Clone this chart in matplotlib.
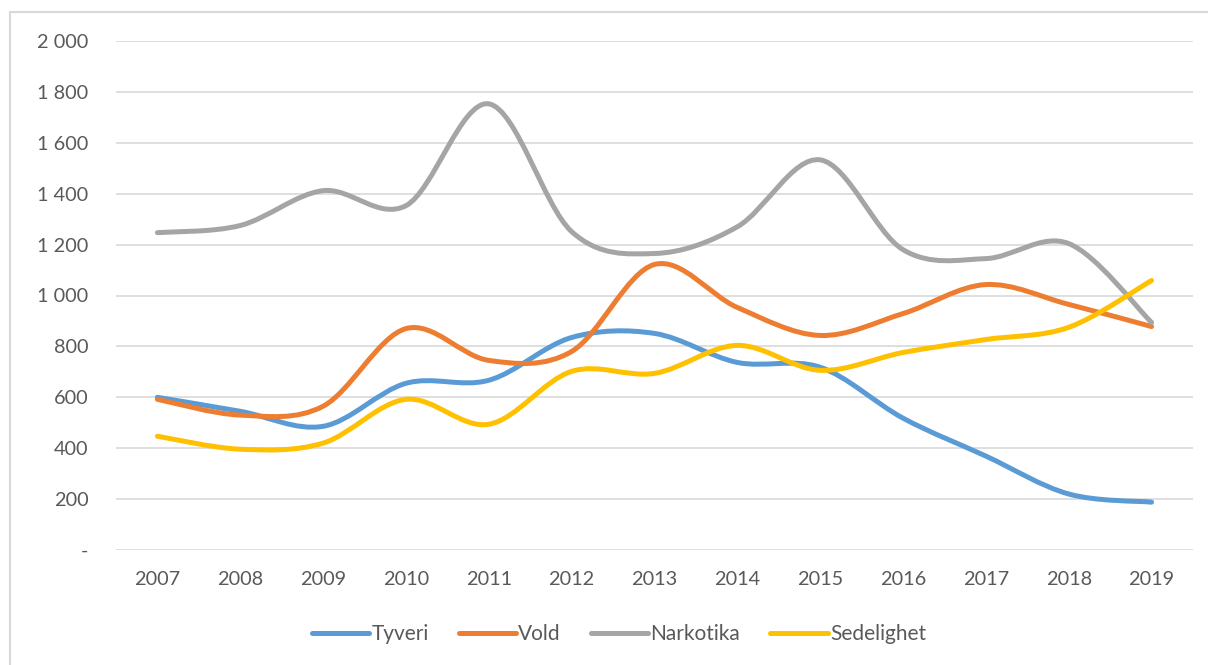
import matplotlib
matplotlib.use("Agg")
import matplotlib.pyplot as plt
from matplotlib.path import Path
from matplotlib.patches import PathPatch, Rectangle
from matplotlib.lines import Line2D
from matplotlib.ticker import FuncFormatter, MultipleLocator

years = ["2007", "2008", "2009", "2010", "2011", "2012", "2013",
         "2014", "2015", "2016", "2017", "2018", "2019"]
tyveri = [600, 545, 486, 655, 667, 835, 851, 737, 718, 518, 369, 220, 188]
vold = [592, 530, 565, 870, 745, 780, 1122, 953, 843, 929, 1043, 965, 878]
narkotika = [1247, 1275, 1412, 1353, 1753, 1251, 1165, 1270, 1533, 1180, 1145, 1204, 894]
sedelighet = [447, 396, 420, 592, 494, 702, 694, 804, 706, 776, 827, 875, 1059]
series_names = ["Tyveri", "Vold", "Narkotika", "Sedelighet"]
colors = ["#5B9BD5", "#ED7D31", "#A5A5A5", "#FFC000"]

plt.rcParams['font.family'] = ['Lato', 'DejaVu Sans']

W, H = 1208, 665
fig = plt.figure(figsize=(W / 100, H / 100), dpi=100)
fig.patch.set_facecolor("white")
fig.patches.append(Rectangle((10 / W, -0.1), 1.2, 1 - 12 / H + 0.1, transform=fig.transFigure,
                             fill=False, edgecolor="#D9D9D9", linewidth=1.5))

ax = fig.add_axes([116 / W, 1 - 550 / H, (1193 - 116) / W, (550 - 41) / H])
ax.set_xlim(-0.5, len(years) - 0.5)
ax.set_ylim(0, 2000)


def smooth_path(xs, ys):
    verts = [(xs[0], ys[0])]
    codes = [Path.MOVETO]
    n = len(xs)
    for i in range(n - 1):
        x0, y0 = (xs[i - 1], ys[i - 1]) if i > 0 else (xs[i], ys[i])
        x1, y1 = xs[i], ys[i]
        x2, y2 = xs[i + 1], ys[i + 1]
        x3, y3 = (xs[i + 2], ys[i + 2]) if i + 2 < n else (x2, y2)
        c1 = (x1 + (x2 - x0) / 6, y1 + (y2 - y0) / 6)
        c2 = (x2 - (x3 - x1) / 6, y2 - (y3 - y1) / 6)
        verts += [c1, c2, (x2, y2)]
        codes += [Path.CURVE4] * 3
    return Path(verts, codes)


xs = list(range(len(years)))
for vals, c in zip([tyveri, vold, narkotika, sedelighet], colors):
    p = PathPatch(smooth_path(xs, vals), facecolor="none", edgecolor=c,
                  linewidth=3.6, capstyle="round", joinstyle="round", zorder=3)
    ax.add_patch(p)

ax.yaxis.set_major_locator(MultipleLocator(200))
ax.yaxis.set_major_formatter(FuncFormatter(
    lambda v, pos: "-" if v == 0 else f"{int(v):,}".replace(",", " ")))
ax.set_xticks(xs)
ax.set_xticklabels(years)
ax.grid(axis="y", color="#D9D9D9", linewidth=1.2)
ax.set_axisbelow(True)
for s in ax.spines.values():
    s.set_visible(False)
ax.tick_params(axis="both", length=0, labelsize=14.3, labelcolor="#595959")
ax.tick_params(axis="y", pad=20)
ax.tick_params(axis="x", pad=15)

handles = [Line2D([0], [0], color=c, linewidth=3.6, solid_capstyle="round") for c in colors]
fig.legend(handles, series_names, loc="center", bbox_to_anchor=(619 / W, 1 - 634 / H),
           ncol=4, frameon=False, fontsize=15, labelcolor="#595959",
           handlelength=2.75, handletextpad=0.1, columnspacing=1.45)

fig.savefig("out.png", dpi=100, facecolor="white")
